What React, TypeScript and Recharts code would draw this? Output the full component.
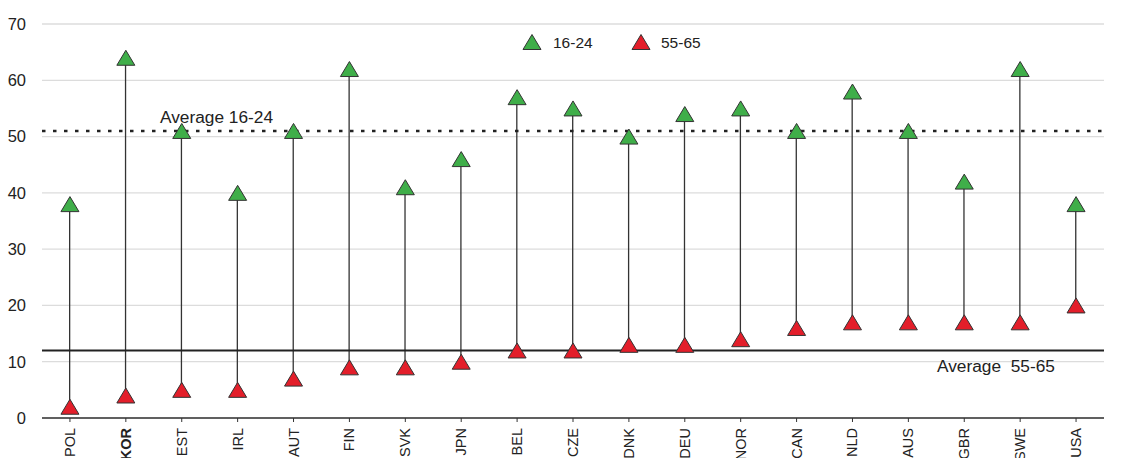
import React from 'react';
import { ComposedChart, Line, Bar, XAxis, YAxis, CartesianGrid, ReferenceLine } from 'recharts';

const countries = ['POL', 'KOR', 'EST', 'IRL', 'AUT', 'FIN', 'SVK', 'JPN', 'BEL', 'CZE', 'DNK', 'DEU', 'NOR', 'CAN', 'NLD', 'AUS', 'GBR', 'SWE', 'USA'];
const young = [38, 64, 51, 40, 51, 62, 41, 46, 57, 55, 50, 54, 55, 51, 58, 51, 42, 62, 38];
const old = [2, 4, 5, 5, 7, 9, 9, 10, 12, 12, 13, 13, 14, 16, 17, 17, 17, 17, 20];
const yTicks = [0, 10, 20, 30, 40, 50, 60, 70];
const avgYoung = 51;
const avgOld = 12;
const seriesNames = ['16-24', '55-65'];
const highlighted = 'KOR';

const GREEN = '#3fae49';
const RED = '#e31e2a';
const FONT = '"Liberation Sans", Arial, sans-serif';

const data = countries.map((c, i) => ({ country: c, young: young[i], old: old[i], range: [old[i], young[i]] }));

const Tri = (props: any) => {
  const { cx, cy, fill } = props;
  if (cx == null || cy == null) return null;
  const w = 9, h = 7.5;
  return <path d={`M${cx},${cy - h} L${cx + w},${cy + h} L${cx - w},${cy + h} Z`} fill={fill} stroke="#333" strokeWidth={1} />;
};

const XTick = (props: any) => {
  const { x, y, payload } = props;
  const bold = payload.value === highlighted;
  return (
    <text transform={`translate(${x},${y + 4}) rotate(-90)`} textAnchor="end" dominantBaseline="central"
      fontSize={14.5} fontFamily={FONT} fill="#222" fontWeight={bold ? 'bold' : 'normal'}>
      {payload.value}
    </text>
  );
};

const Legend2 = () => (
  <svg width={1138} height={60} style={{ position: 'absolute', left: 0, top: 0, pointerEvents: 'none' }}>
    <Tri cx={532} cy={42} fill={GREEN} />
    <text x={553} y={48} fontSize={15.5} fontFamily={FONT} fill="#222">{seriesNames[0]}</text>
    <Tri cx={641} cy={42} fill={RED} />
    <text x={661} y={48} fontSize={15.5} fontFamily={FONT} fill="#222">{seriesNames[1]}</text>
  </svg>
);

export default function App() {
  return (
    <div style={{ position: 'absolute', left: 0, top: 0, width: 1138, height: 458, background: '#fff' }}>
      <ComposedChart width={1138} height={458} data={data} margin={{ top: 24, right: 0, bottom: 0, left: 0 }}>
        <CartesianGrid yAxisId="left" vertical={false} stroke="#dcdcdc" strokeWidth={1.3} />
        <XAxis dataKey="country" yAxisId="left" height={40} interval={0} tick={<XTick />}
          axisLine={{ stroke: '#333', strokeWidth: 1.6 }} tickLine={{ stroke: '#333' }} tickSize={4} />
        <YAxis yAxisId="left" orientation="left" width={42} domain={[0, 70]} ticks={yTicks} axisLine={false}
          tickLine={false} tickMargin={10} tick={{ fontSize: 16.5, fontFamily: FONT, fill: '#222' }} />
        <YAxis yAxisId="right" orientation="right" width={34} domain={[0, 70]} ticks={yTicks} axisLine={false}
          tickLine={{ stroke: '#888' }} tickSize={4} tickMargin={9} tick={{ fontSize: 16.5, fontFamily: FONT, fill: '#222' }} />
        <ReferenceLine yAxisId="left" y={avgYoung} stroke="#222" strokeWidth={2.5} strokeDasharray="3.5 7.5"
          label={(p: any) => (
            <text x={p.viewBox.x + 118} y={p.viewBox.y - 8} fontSize={17.3} fontFamily={FONT} fill="#222">Average 16-24</text>
          )} />
        <ReferenceLine yAxisId="left" y={avgOld} stroke="#222" strokeWidth={2}
          label={(p: any) => (
            <text x={p.viewBox.x + 895} y={p.viewBox.y + 22} fontSize={17.3} fontFamily={FONT} fill="#222" xmlSpace="preserve">{'Average  55-65'}</text>
          )} />
        <Bar yAxisId="left" dataKey="range" barSize={1.3} fill="#333" isAnimationActive={false} />
        <Line yAxisId="left" dataKey="young" stroke="none" isAnimationActive={false}
          dot={(p: any) => <Tri key={`y${p.index}`} cx={p.cx} cy={p.cy} fill={GREEN} />} activeDot={false} />
        <Line yAxisId="left" dataKey="old" stroke="none" isAnimationActive={false}
          dot={(p: any) => <Tri key={`o${p.index}`} cx={p.cx} cy={p.cy} fill={RED} />} activeDot={false} />
      </ComposedChart>
      <Legend2 />
    </div>
  );
}
